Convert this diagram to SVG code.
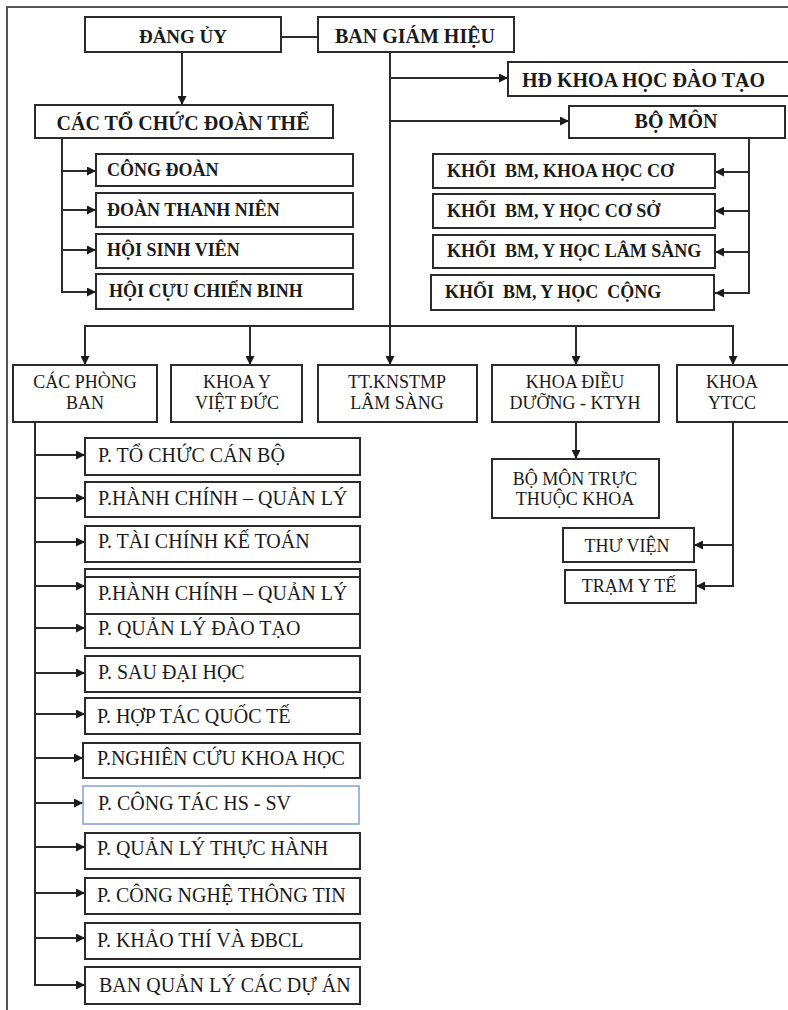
<svg xmlns="http://www.w3.org/2000/svg" width="788" height="1010" viewBox="0 0 788 1010">
<style>
.bx{fill:#fff;stroke:#2b2b2b;stroke-width:2}
.ln{fill:none;stroke:#2b2b2b;stroke-width:2}
.b{font-family:"Liberation Serif","Times New Roman",serif;font-weight:bold;fill:#1a1a1a}
.r{font-family:"Liberation Serif","Times New Roman",serif;fill:#1a1a1a}
.m{text-anchor:middle}
.pre{white-space:pre}
.b19{font-size:19px}
.b18{font-size:18px}
.r19{font-size:20px}
.r18{font-size:18px}
</style>
<defs>
<marker id="ah" viewBox="0 0 10 10" refX="10" refY="5" markerWidth="9" markerHeight="9" markerUnits="userSpaceOnUse" orient="auto">
<path d="M0,0 L10,5 L0,10 z" fill="#1a1a1a"/>
</marker>
</defs>
<rect width="788" height="1010" fill="#fff"/>
<rect x="7" y="7" width="800" height="1030" fill="none" stroke="#555" stroke-width="2"/>

<g id="connectors">
<path class="ln" d="M281,37 H318"/>
<path class="ln" d="M182,52 V105" marker-end="url(#ah)"/>
<path class="ln" d="M62,138 V292 H96" marker-end="url(#ah)"/>
<path class="ln" d="M62,171 H96" marker-end="url(#ah)"/>
<path class="ln" d="M62,210 H96" marker-end="url(#ah)"/>
<path class="ln" d="M62,250 H96" marker-end="url(#ah)"/>
<path class="ln" d="M390,52 V365" marker-end="url(#ah)"/>
<path class="ln" d="M390,78 H508" marker-end="url(#ah)"/>
<path class="ln" d="M390,121 H569" marker-end="url(#ah)"/>
<path class="ln" d="M749,138 V293 H715" marker-end="url(#ah)"/>
<path class="ln" d="M749,172 H715" marker-end="url(#ah)"/>
<path class="ln" d="M749,211 H715" marker-end="url(#ah)"/>
<path class="ln" d="M749,252 H715" marker-end="url(#ah)"/>
<path class="ln" d="M85,365 V326 H733 V365" marker-end="url(#ah)"/>
<path class="ln" d="M85,326 V365" marker-end="url(#ah)"/>
<path class="ln" d="M250,326 V365" marker-end="url(#ah)"/>
<path class="ln" d="M576,326 V365" marker-end="url(#ah)"/>
<path class="ln" d="M576,422 V459" marker-end="url(#ah)"/>
<path class="ln" d="M733,422 V586 H696" marker-end="url(#ah)"/>
<path class="ln" d="M733,545 H694" marker-end="url(#ah)"/>
<path class="ln" d="M35,422 V985 H85" marker-end="url(#ah)"/>
<path class="ln" d="M35,455 H85" marker-end="url(#ah)"/>
<path class="ln" d="M35,498 H85" marker-end="url(#ah)"/>
<path class="ln" d="M35,542 H85" marker-end="url(#ah)"/>
<path class="ln" d="M35,586 H85" marker-end="url(#ah)"/>
<path class="ln" d="M35,628 H85" marker-end="url(#ah)"/>
<path class="ln" d="M35,673 H85" marker-end="url(#ah)"/>
<path class="ln" d="M35,714 H85" marker-end="url(#ah)"/>
<path class="ln" d="M35,758 H83" marker-end="url(#ah)"/>
<path class="ln" d="M35,803 H83" marker-end="url(#ah)"/>
<path class="ln" d="M35,847 H85" stroke-width="1.2" marker-end="url(#ah)"/>
<path class="ln" d="M35,893 H85" marker-end="url(#ah)"/>
<path class="ln" d="M35,938 H85" marker-end="url(#ah)"/>
</g>

<g id="dang-uy"><rect class="bx" x="85" y="17" width="196" height="35"/><text class="b b19 m" x="183" y="43">ĐẢNG ỦY</text></g>
<g id="ban-giam-hieu"><rect class="bx" x="318" y="17" width="196" height="35"/><text class="b m" font-size="20" x="415" y="43">BAN GIÁM HIỆU</text></g>
<g id="cac-to-chuc"><rect class="bx" x="35" y="105" width="298" height="33"/><text class="b m" font-size="20" x="183" y="130">CÁC TỔ CHỨC ĐOÀN THỂ</text></g>
<g id="hd-khoa-hoc"><rect class="bx" x="508" y="62" width="290" height="34"/><text class="b" font-size="20" x="522" y="87">HĐ KHOA HỌC ĐÀO TẠO</text></g>
<g id="bo-mon"><rect class="bx" x="569" y="106" width="216" height="32"/><text class="b m" font-size="20" x="676" y="128">BỘ MÔN</text></g>

<g id="cong-doan"><rect class="bx" x="96" y="154" width="257" height="32"/><text class="b b18" x="107" y="176">CÔNG ĐOÀN</text></g>
<g id="doan-thanh-nien"><rect class="bx" x="96" y="193" width="257" height="34"/><text class="b b18" x="107" y="216">ĐOÀN THANH NIÊN</text></g>
<g id="hoi-sinh-vien"><rect class="bx" x="96" y="234" width="257" height="34"/><text class="b b18" x="107" y="256">HỘI SINH VIÊN</text></g>
<g id="hoi-cuu-chien-binh"><rect class="bx" x="96" y="274" width="257" height="35"/><text class="b b18" x="109" y="297">HỘI CỰU CHIẾN BINH</text></g>

<g id="khoi-1"><rect class="bx" x="433" y="154" width="282" height="34"/><text class="b b18 pre" x="447" y="177">KHỐI  BM, KHOA HỌC CƠ</text></g>
<g id="khoi-2"><rect class="bx" x="433" y="194" width="282" height="34"/><text class="b b18 pre" x="447" y="217">KHỐI  BM, Y HỌC CƠ SỞ</text></g>
<g id="khoi-3"><rect class="bx" x="433" y="235" width="282" height="33"/><text class="b b18 pre" x="447" y="257">KHỐI  BM, Y HỌC LÂM SÀNG</text></g>
<g id="khoi-4"><rect class="bx" x="431" y="275" width="283" height="35"/><text class="b b18 pre" x="445" y="298">KHỐI  BM, Y HỌC  CỘNG</text></g>

<g id="cac-phong-ban"><rect class="bx" x="13" y="365" width="144" height="57"/><text class="r r18 m" x="85" y="388">CÁC PHÒNG</text><text class="r r18 m" x="85" y="409">BAN</text></g>
<g id="khoa-y-viet-duc"><rect class="bx" x="171" y="365" width="131" height="57"/><text class="r r18 m" x="237" y="388">KHOA Y</text><text class="r r18 m" x="237" y="409">VIỆT ĐỨC</text></g>
<g id="tt-knstmp"><rect class="bx" x="318" y="365" width="159" height="57"/><text class="r r18 m" x="397" y="388">TT.KNSTMP</text><text class="r r18 m" x="397" y="409">LÂM SÀNG</text></g>
<g id="khoa-dieu-duong"><rect class="bx" x="492" y="365" width="167" height="57"/><text class="r r18 m" x="575" y="388">KHOA ĐIỀU</text><text class="r r18 m" x="575" y="409">DƯỠNG - KTYH</text></g>
<g id="khoa-ytcc"><rect class="bx" x="677" y="365" width="120" height="57"/><text class="r r18 m" x="732" y="388">KHOA</text><text class="r r18 m" x="732" y="409">YTCC</text></g>

<g id="bo-mon-truc-thuoc"><rect class="bx" x="492" y="459" width="167" height="59"/><text class="r r18 m" x="575" y="485">BỘ MÔN TRỰC</text><text class="r r18 m" x="575" y="505">THUỘC KHOA</text></g>
<g id="thu-vien"><rect class="bx" x="563" y="528" width="131" height="34"/><text class="r r18 m" x="627" y="552">THƯ VIỆN</text></g>
<g id="tram-y-te"><rect class="bx" x="565" y="570" width="131" height="33"/><text class="r r18 m" x="629" y="592">TRẠM Y TẾ</text></g>

<g id="p-to-chuc"><rect class="bx" x="85" y="438" width="275" height="37"/><text class="r r19" x="98" y="462">P. TỔ CHỨC CÁN BỘ</text></g>
<g id="p-hanh-chinh-1"><rect class="bx" x="85" y="482" width="275" height="35"/><text class="r r19" x="98" y="505">P.HÀNH CHÍNH – QUẢN LÝ</text></g>
<g id="p-tai-chinh"><rect class="bx" x="85" y="526" width="275" height="36"/><text class="r r19" x="98" y="548">P. TÀI CHÍNH KẾ TOÁN</text></g>
<g id="p-hanh-chinh-2"><rect class="bx" x="85" y="569" width="275" height="45" stroke-width="1.3"/><path class="ln" d="M85,577 H360"/><text class="r r19" x="98" y="600">P.HÀNH CHÍNH – QUẢN LÝ</text></g>
<g id="p-quan-ly-dao-tao"><rect class="bx" x="85" y="614" width="275" height="34"/><text class="r r19" x="98" y="635">P. QUẢN LÝ ĐÀO TẠO</text></g>
<g id="p-sau-dai-hoc"><rect class="bx" x="85" y="656" width="275" height="36"/><text class="r r19" x="98" y="679">P. SAU ĐẠI HỌC</text></g>
<g id="p-hop-tac"><rect class="bx" x="85" y="698" width="275" height="36"/><text class="r r19" x="97" y="723">P. HỢP TÁC QUỐC TẾ</text></g>
<g id="p-nghien-cuu"><rect class="bx" x="83" y="743" width="277" height="35"/><text class="r r19" x="97" y="765">P.NGHIÊN CỨU KHOA HỌC</text></g>
<g id="p-cong-tac"><rect x="83" y="786" width="276" height="38" fill="#fff" stroke="#7f9fd6" stroke-width="1.5"/><text class="r r19" x="98" y="810">P. CÔNG TÁC HS - SV</text></g>
<g id="p-quan-ly-thuc-hanh"><rect class="bx" x="85" y="833" width="275" height="36"/><text class="r r19" x="97" y="855">P. QUẢN LÝ THỰC HÀNH</text></g>
<g id="p-cong-nghe"><rect class="bx" x="85" y="878" width="275" height="36"/><text class="r r19" x="97" y="902">P. CÔNG NGHỆ THÔNG TIN</text></g>
<g id="p-khao-thi"><rect class="bx" x="85" y="923" width="275" height="36"/><text class="r r19" x="97" y="947">P. KHẢO THÍ VÀ ĐBCL</text></g>
<g id="ban-quan-ly-du-an"><rect class="bx" x="85" y="967" width="275" height="37"/><text class="r r19" x="99" y="992">BAN QUẢN LÝ CÁC DỰ ÁN</text></g>
</svg>
